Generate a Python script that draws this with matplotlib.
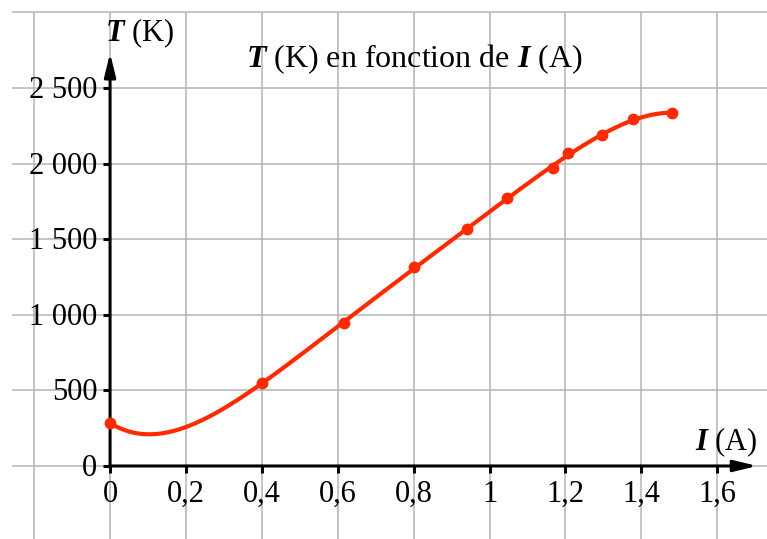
import matplotlib

matplotlib.use("Agg")
import matplotlib.pyplot as plt
import numpy as np

# measured points: current I (A) and temperature T (K)
current = [0.0, 0.40, 0.617, 0.80, 0.94, 1.046, 1.166, 1.207, 1.297, 1.377, 1.48]
temperature = [284, 549, 946, 1314, 1566, 1771, 1969, 2068, 2187, 2295, 2333]

x_ticks = [0, 0.2, 0.4, 0.6, 0.8, 1.0, 1.2, 1.4, 1.6]
x_labels = ["0", "0,2", "0,4", "0,6", "0,8", "1", "1,2", "1,4", "1,6"]
y_ticks = [0, 500, 1000, 1500, 2000, 2500]
y_labels = ["0", "500", "1 000", "1 500", "2 000", "2 500"]

plt.rcParams["font.family"] = ["Liberation Serif", "DejaVu Serif"]
plt.rcParams["mathtext.fontset"] = "custom"
plt.rcParams["mathtext.rm"] = "Liberation Serif"
plt.rcParams["mathtext.it"] = "Liberation Serif:italic"
plt.rcParams["mathtext.bf"] = "Liberation Serif:bold"
plt.rcParams["mathtext.bfit"] = "Liberation Serif:italic:bold"

RED = "#ff2a00"
GRID = "#b4b4b4"
FS = 22

fig = plt.figure(figsize=(7.67, 5.39), dpi=100)
fig.patch.set_facecolor("white")
ax = fig.add_axes([0, 0, 1, 1])
ax.set_xlim(-0.29, 1.731)
ax.set_ylim(-483, 3082)
ax.axis("off")

# grid (stops at the 3000 line on top and a little left of -0.2)
grid_x = np.arange(-0.2, 1.61, 0.2)
grid_y = np.arange(0, 3001, 500)
ax.vlines(grid_x, -483, 3000, color=GRID, lw=1.1, zorder=1)
ax.hlines(grid_y, -0.258, 1.731, color=GRID, lw=1.1, zorder=1)

# axes with arrows
arrow = dict(arrowstyle="-|>,head_length=0.7,head_width=0.17",
             lw=2.2, color="black", mutation_scale=20, shrinkA=0, shrinkB=0)
ax.annotate("", xy=(0, 2731), xytext=(0, 0), arrowprops=arrow, zorder=3)
ax.annotate("", xy=(1.705, 0), xytext=(0, 0), arrowprops=arrow, zorder=3)

# ticks and labels
ax.hlines(y_ticks, -0.019, 0, color="black", lw=2.2, zorder=3)
ax.vlines(x_ticks, -46, 0, color="black", lw=2.2, zorder=3)
for yv, lab in zip(y_ticks, y_labels):
    ax.text(-0.034, yv - 66, lab, ha="right", va="baseline", fontsize=FS)
for xv, lab in zip(x_ticks, x_labels):
    ax.text(xv, -238, lab, ha="center", va="baseline", fontsize=FS)

# axis names and title
ax.text(-0.013, 2860, r"$\mathbfit{T}$ (K)", ha="left", va="center", fontsize=FS)
ax.text(1.707, 158, r"$\mathbfit{I}$ (A)", ha="right", va="center", fontsize=FS)
ax.text(0.801, 2690, r"$\mathbfit{T}$ (K) en fonction de $\mathbfit{I}$ (A)",
        ha="center", va="center", fontsize=23)

# polynomial fit through the measurements, then the points
coef = np.polyfit(current, temperature, 5)
xs = np.linspace(min(current), max(current), 300)
ax.plot(xs, np.polyval(coef, xs), color=RED, lw=3, zorder=4, solid_capstyle="round")
ax.plot(current, temperature, "o", color=RED, ms=7.5, zorder=5)

fig.savefig("out.png", dpi=100, facecolor="white")
